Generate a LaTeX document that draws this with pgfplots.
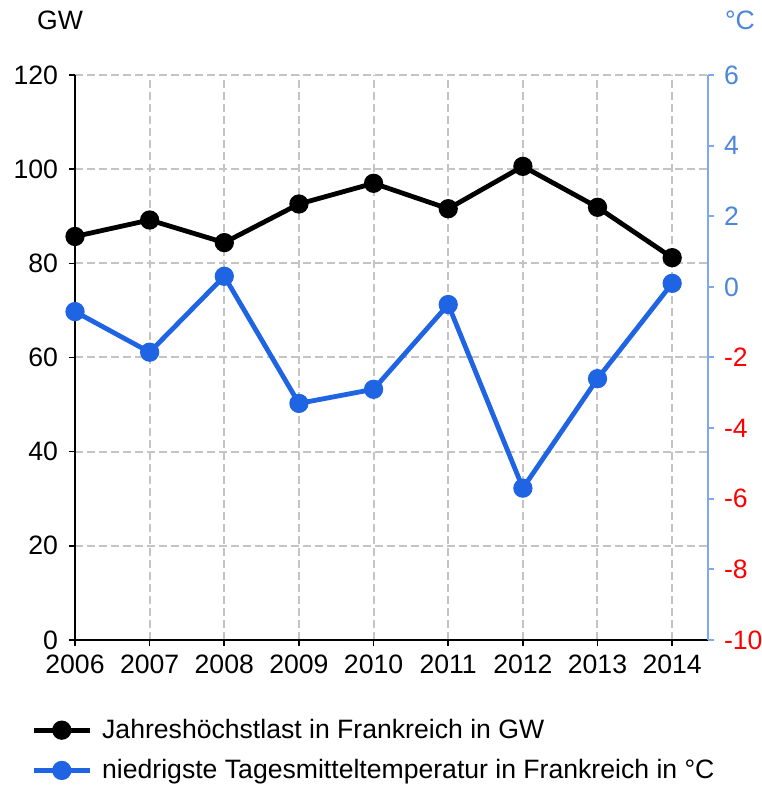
\documentclass[border=0pt]{standalone}
\usepackage{pgfplots}
\pgfplotsset{compat=1.18}
\usepackage{fontspec}
\setmainfont{Liberation Sans}
\definecolor{lineblue}{HTML}{1F64E2}
\definecolor{axisblue}{HTML}{80A8EE}
\definecolor{labelblue}{HTML}{4C86D8}
\definecolor{gridgray}{HTML}{C4C4C4}

\pgfplotsset{
  common/.style={
    scale only axis, width=316.5pt, height=282.5pt,
    xmin=2006, xmax=2014.48,
    xtick={2006,...,2014},
    tick align=outside, major tick length=3pt,
    axis line style={-, line width=1pt},
    /pgf/number format/assume math mode=true,
    ticklabel style={font=\fontsize{13.3}{15}\selectfont},
  },
}

\begin{document}
\begin{tikzpicture}
\begin{axis}[
    common,
    ymin=0, ymax=120,
    ytick={0,20,...,120},
    axis x line*=bottom, axis y line*=left,
    x tick label style={/pgf/number format/1000 sep={}, yshift=-1pt},
    y tick label style={xshift=-2pt},
    tick style={black, line width=0.8pt},
    grid=major,
    grid style={gridgray, line width=1pt, dash pattern=on 4pt off 2pt},
]
\coordinate (bl) at (rel axis cs:0,0);
\coordinate (tr) at (rel axis cs:1,1);
\addplot[black, line width=2.4pt, mark=*, mark size=3.6pt]
  coordinates {(2006,85.7)(2007,89.2)(2008,84.4)(2009,92.6)(2010,97.0)(2011,91.6)(2012,100.6)(2013,91.9)(2014,81.2)};
\end{axis}

\begin{axis}[
    common,
    ymin=-10, ymax=6,
    ytick={-10,-8,...,6},
    yticklabels={\textcolor{red}{-10},\textcolor{red}{-8},\textcolor{red}{-6},\textcolor{red}{-4},\textcolor{red}{-2},\textcolor{labelblue}{0},\textcolor{labelblue}{2},\textcolor{labelblue}{4},\textcolor{labelblue}{6}},
    axis x line=none, axis y line*=right,
    y axis line style={axisblue, line width=1.2pt},
    ytick style={axisblue, line width=1pt},
    y tick label style={xshift=1.5pt},
    legend style={draw=none, fill=none, at={(-0.079,-0.125)}, anchor=north west,
      font=\fontsize{13.3}{15}\selectfont, row sep=5pt,
      nodes={inner xsep=5pt}},
    legend cell align=left,
    legend image code/.code={\draw[#1, mark repeat=2, mark phase=2] plot coordinates {(0pt,0pt)(14pt,0pt)(28pt,0pt)};},
]
\addlegendimage{black, line width=2.4pt, mark=*, mark size=3.6pt}
\addlegendentry{Jahreshöchstlast in Frankreich in GW}
\addplot[lineblue, line width=2.4pt, mark=*, mark size=3.6pt]
  coordinates {(2006,-0.7)(2007,-1.85)(2008,0.3)(2009,-3.3)(2010,-2.9)(2011,-0.5)(2012,-5.7)(2013,-2.6)(2014,0.1)};
\addlegendentry{niedrigste Tagesmitteltemperatur in Frankreich in °C}
\end{axis}

\node[font=\fontsize{13.3}{15}\selectfont] at ([shift={(-7.5pt,27.5pt)}]bl |- tr) {GW};
\node[font=\fontsize{13.3}{15}\selectfont, text=labelblue] at ([shift={(16pt,27.5pt)}]tr) {°C};

\pgfresetboundingbox
\useasboundingbox ([shift={(-37.5pt,-73pt)}]bl) rectangle ([shift={(26.5pt,37.5pt)}]tr);
\end{tikzpicture}
\end{document}
